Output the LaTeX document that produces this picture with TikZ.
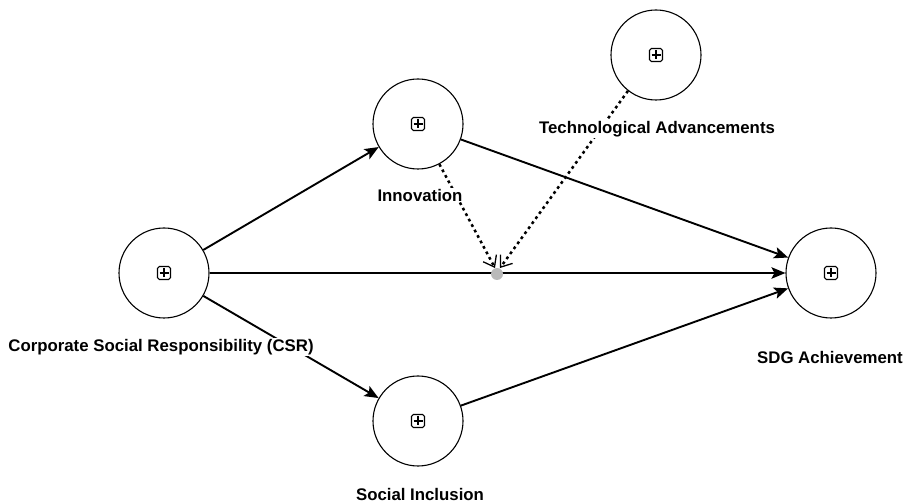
\documentclass[tikz,border=0pt]{standalone}
\usepackage{fontspec}
\setmainfont{Liberation Sans}
\usetikzlibrary{arrows.meta}
\begin{document}
\begin{tikzpicture}[x=1pt,y=-1pt,
  latent/.style={circle,draw,line width=1.1pt,minimum size=90pt,inner sep=0pt,fill=white},
  lbl/.style={font=\bfseries\fontsize{16.8}{19}\selectfont,inner sep=1pt,fill=white},
  path/.style={line width=1.9pt,-{Stealth[length=14pt,width=11.5pt,inset=3pt]}},
  mod/.style={line width=2.5pt,dash pattern=on 2.8pt off 3.4pt,-{Straight Barb[length=10pt,width=15pt,line width=1.3pt]}},
  plusbox/.pic={\draw[line width=1.1pt,rounded corners=1.8pt] (-6.5,-6.5) rectangle (6.5,6.5);
                \draw[line width=1.1pt] (-4.5,0) -- (4.5,0) (0,-4.5) -- (0,4.5);}]
\useasboundingbox (0,0) rectangle (908,502);
\node[latent] (csr) at (164,273) {};
\node[latent] (inn) at (418,124) {};
\node[latent] (tech) at (656,55) {};
\node[latent] (sdg) at (831,273) {};
\node[latent] (soc) at (418,421) {};
\foreach \n in {csr,inn,tech,sdg,soc} \pic at (\n) {plusbox};
\draw[path] (csr) -- (inn);
\draw[path] (csr) -- (soc);
\draw[path] (inn) -- (sdg);
\draw[path] (soc) -- (sdg);
\draw[path] (csr) -- (sdg);
\node[circle,fill=gray!55,minimum size=12pt,inner sep=0pt] (dot) at (497,274) {};
\coordinate (d1) at (495,268);
\coordinate (d2) at (500,268);
\draw[mod] (inn.-62) -- (d1);
\draw[mod] (tech.-128) -- (d2);
\node[lbl] (lcsr) at (161,347) {Corporate Social Responsibility (CSR)};
\node[lbl] (linn) at (420,195) {Innovation};
\node[lbl] (ltech) at (657,129) {Technological Advancements};
\node[lbl] (lsdg) at (830,357) {SDG Achievement};
\node[lbl] (lsoc) at (420,494) {Social Inclusion};
\end{tikzpicture}
\end{document}
